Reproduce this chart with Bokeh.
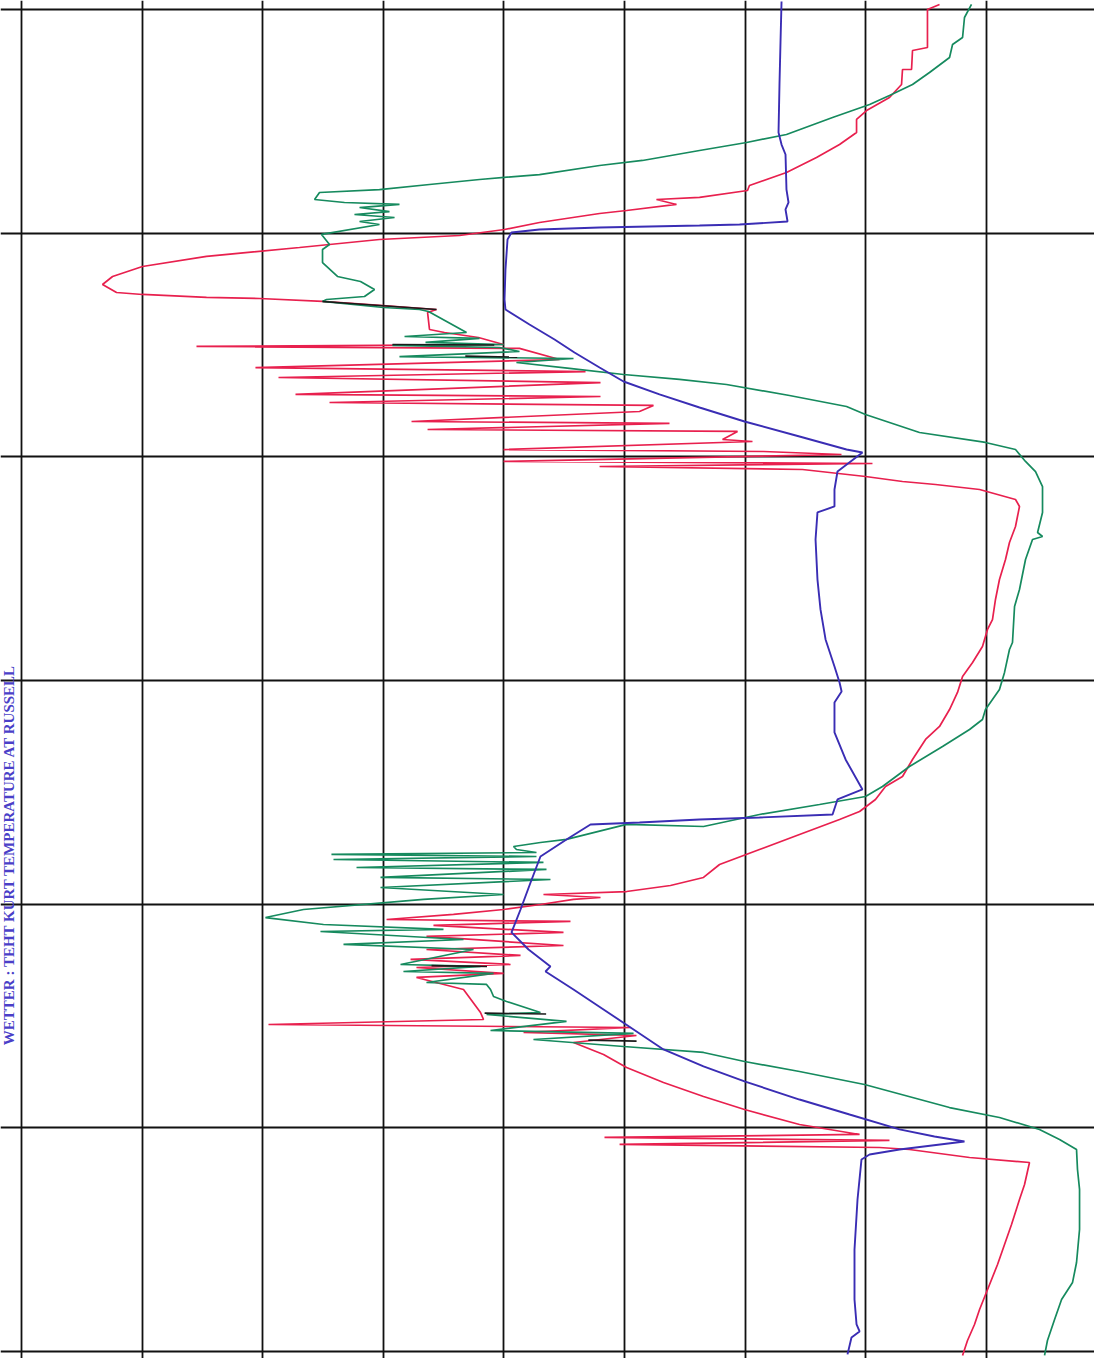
import math
from bokeh.plotting import figure
from bokeh.models import Range1d, FixedTicker
from bokeh.core.properties import value
from bokeh.embed import file_html
from bokeh.resources import INLINE

# ---- data (value axis: 10 units per column; time axis: hours, 24 h per row, read downward) ----
title_text = "WETTER : TEHT KURT TEMPERATURE AT RUSSELL"

value_ticks = [0, 10, 20, 30, 40, 50, 60, 70, 80]
hour_ticks = [0, 24, 48, 72, 96, 120, 144]

blue_v = [63.02, 62.94, 62.85, 62.77, 63.02, 63.35, 63.43, 63.60, 63.35, 63.52, 59.54, 56.22, 47.93, 42.95,
          40.63, 40.30, 40.13, 40.05, 40.13, 42.12, 44.20, 45.85, 47.93, 49.92, 52.90, 56.22, 59.95, 64.51,
          68.41, 69.73, 67.66, 67.41, 67.41, 66.00, 65.84, 66.00, 66.25, 66.67, 67.41, 67.83, 68.00, 67.41,
          67.41, 68.33, 69.73, 67.66, 67.25, 61.19, 56.22, 51.24, 47.18, 45.19, 43.03, 42.21, 41.38, 40.63,
          42.04, 43.86, 43.45, 45.77, 48.26, 50.75, 53.23, 56.55, 59.95, 64.51, 68.66, 72.80, 75.70, 78.19,
          72.80, 70.32, 69.65, 69.32, 69.07, 69.07, 69.24, 69.49, 68.82, 68.49]
blue_h = [-0.86, 3.22, 8.05, 13.20, 14.49, 15.56, 19.32, 20.71, 21.46, 22.75, 23.07, 23.18, 23.39, 23.61,
          23.93, 24.68, 27.90, 31.12, 32.19, 33.80, 35.41, 36.81, 38.42, 39.92, 41.31, 42.71, 44.21, 45.82,
          47.22, 47.54, 49.58, 51.51, 53.33, 53.97, 56.87, 61.17, 64.38, 67.60, 70.50, 72.22, 73.18, 74.36,
          77.58, 80.48, 83.70, 84.77, 86.38, 86.70, 86.92, 87.24, 87.45, 89.06, 90.89, 93.68, 96.58, 99.04,
          100.87, 102.69, 103.23, 105.16, 107.31, 109.45, 111.60, 113.42, 115.03, 116.97, 118.58, 120.18, 120.94, 121.47,
          122.33, 122.87, 123.40, 127.70, 133.06, 138.43, 141.11, 141.86, 142.50, 144.32]

red_v = [76.12, 75.12, 75.12, 73.88, 73.80, 73.05, 72.97, 71.97, 70.07, 69.24, 69.24, 67.83, 65.92, 63.43,
         60.36, 60.20, 56.22, 52.65, 54.31, 50.17, 47.93, 42.95, 40.05, 36.32, 29.68, 23.05, 15.34, 10.03,
         7.55, 6.72, 7.88, 10.03, 15.34, 19.73, 24.96, 29.68, 34.41, 33.67, 33.83, 35.07, 37.89, 39.97,
         14.51, 41.29, 44.61, 19.40, 46.77, 21.31, 48.01, 22.72, 48.01, 25.54, 52.40, 51.24, 32.34, 53.73,
         33.67, 59.37, 58.13, 60.61, 39.97, 61.53, 67.99, 39.97, 70.56, 47.93, 64.76, 69.98, 73.05, 75.79,
         79.44, 82.42, 82.75, 82.42, 81.92, 81.59, 81.09, 80.76, 80.51, 80.10, 79.68, 78.86, 78.03, 77.61,
         76.95, 76.12, 74.96, 73.88, 73.05, 71.64, 70.81, 69.49, 67.83, 64.51, 61.19, 57.88, 56.55, 53.81,
         50.17, 43.28, 48.01, 45.77, 43.03, 39.97, 35.82, 30.27, 45.52, 34.16, 44.94, 33.58, 44.94, 33.58,
         41.38, 32.26, 40.55, 32.75, 39.97, 32.75, 36.65, 38.06, 38.31, 20.48, 50.50, 41.63, 50.99, 45.77,
         48.26, 50.17, 53.23, 56.55, 59.95, 64.51, 69.49, 48.34, 71.97, 49.59, 71.14, 73.63, 78.61, 83.58,
         83.17, 82.75, 82.09, 81.51, 80.93, 80.27, 79.44, 79.02, 78.44, 78.03]
red_h = [-0.54, 0.00, 4.08, 4.40, 6.44, 6.44, 8.05, 9.44, 10.84, 11.80, 13.20, 14.49, 15.88, 17.49,
         18.89, 19.42, 20.17, 20.39, 20.92, 21.57, 21.89, 22.86, 23.61, 24.25, 24.68, 25.54, 26.50, 27.58,
         28.65, 29.51, 30.37, 30.58, 30.90, 31.01, 31.33, 31.76, 32.19, 32.51, 34.34, 34.66, 35.20, 35.95,
         36.16, 36.37, 37.56, 38.42, 38.85, 39.49, 40.03, 41.31, 41.53, 42.17, 42.49, 43.14, 44.21, 44.42,
         45.07, 45.28, 46.14, 46.36, 47.22, 47.43, 47.75, 48.50, 48.72, 49.04, 49.36, 50.11, 50.65, 50.97,
         51.51, 52.58, 53.33, 55.48, 57.20, 59.02, 61.17, 63.31, 65.46, 66.53, 68.35, 70.07, 71.57, 73.29,
         75.12, 76.94, 78.33, 80.48, 82.30, 83.38, 84.77, 86.06, 86.92, 88.53, 90.14, 91.75, 93.14, 94.00,
         94.65, 94.97, 95.29, 95.50, 96.04, 96.58, 97.11, 97.65, 97.86, 98.29, 99.04, 99.47, 100.44, 100.87,
         101.51, 101.94, 102.48, 102.80, 103.44, 103.87, 105.16, 107.63, 108.38, 108.92, 109.24, 109.77, 110.10, 110.85,
         112.14, 113.53, 115.14, 116.64, 118.04, 119.65, 120.72, 121.04, 121.36, 121.79, 122.12, 122.33, 123.19, 123.73,
         126.09, 127.70, 130.38, 132.52, 134.67, 136.82, 139.50, 141.11, 142.83, 144.43]

green_v = [78.77, 78.19, 78.03, 77.20, 76.95, 75.29, 73.88, 71.97, 70.32, 67.25, 63.43, 60.12, 56.22, 51.49,
           47.93, 42.95, 37.98, 33.83, 29.68, 24.71, 24.30, 26.78, 31.34, 28.03, 30.51, 27.61, 30.93, 28.03,
           29.68, 24.88, 25.54, 24.96, 24.96, 26.20, 28.11, 29.27, 28.44, 25.29, 24.96, 30.02, 33.00, 33.75,
           36.90, 31.76, 37.98, 33.50, 39.97, 30.76, 39.64, 41.29, 31.34, 45.77, 41.04, 45.44, 49.92, 54.56,
           58.46, 63.68, 68.41, 69.98, 74.46, 79.93, 82.42, 83.25, 84.08, 84.66, 84.66, 84.25, 84.66, 83.83,
           83.25, 82.75, 82.34, 82.17, 81.92, 81.51, 81.09, 80.51, 79.93, 79.68, 78.61, 76.37, 73.63, 71.39,
           69.98, 66.17, 61.19, 56.55, 50.17, 45.19, 43.03, 40.80, 41.04, 42.70, 25.70, 42.70, 25.87, 43.28,
           27.78, 43.53, 29.77, 43.86, 29.77, 39.97, 33.33, 23.38, 20.23, 25.04, 34.99, 24.79, 36.65, 26.70,
           37.48, 31.43, 38.06, 31.67, 39.14, 33.58, 38.56, 38.89, 39.14, 40.22, 43.03, 38.56, 45.19, 38.89,
           50.75, 42.45, 49.92, 56.55, 59.95, 64.51, 69.90, 76.95, 81.09, 84.41, 86.07, 87.48, 87.56, 87.73,
           87.73, 87.48, 87.15, 86.24, 85.66, 85.07, 84.83]
green_h = [-0.54, 0.86, 3.00, 3.76, 5.15, 6.76, 8.05, 9.23, 10.19, 11.59, 13.41, 14.27, 15.13, 16.20,
           16.74, 17.71, 18.24, 18.78, 19.32, 19.64, 20.39, 20.71, 20.92, 21.25, 21.68, 22.00, 22.32, 22.75,
           23.07, 24.14, 25.22, 25.75, 27.15, 28.65, 29.19, 30.05, 30.80, 31.12, 31.33, 31.98, 32.19, 32.41,
           34.66, 35.09, 35.30, 35.73, 35.95, 36.05, 36.27, 36.70, 37.24, 37.45, 37.88, 38.52, 39.17, 39.70,
           40.24, 41.42, 42.60, 43.46, 45.39, 46.46, 47.22, 48.50, 49.58, 51.19, 53.97, 56.12, 56.55, 56.87,
           59.02, 62.24, 64.06, 67.93, 68.68, 71.14, 72.97, 74.04, 75.12, 76.19, 77.26, 79.09, 81.23, 83.38,
           84.45, 85.31, 86.38, 87.67, 87.45, 89.06, 89.39, 89.82, 90.14, 90.46, 90.67, 90.89, 91.21, 91.53,
           92.07, 92.28, 93.14, 93.36, 94.22, 94.97, 95.50, 96.58, 97.44, 98.19, 98.72, 98.94, 99.80, 100.33,
           100.87, 102.48, 102.69, 103.23, 103.44, 104.41, 104.62, 105.16, 105.91, 106.45, 107.63, 107.84, 108.59, 109.56,
           109.88, 110.53, 111.28, 111.92, 112.89, 113.96, 115.36, 117.83, 118.90, 120.18, 121.26, 122.33, 124.48, 126.62,
           130.92, 134.46, 136.60, 138.43, 140.57, 142.83, 144.43]

# overlapping trace portions printed dark
overlap_v = [[24.96, 29.68, 34.41], [30.76, 39.2], [36.8, 41.1], [34.0, 38.6], [38.4, 43.5], [47.0, 51.0]]
overlap_h = [[31.33, 31.76, 32.19], [35.95, 36.0], [37.2, 37.3], [102.6, 102.7], [107.7, 107.8], [110.6, 110.7]]

# ---- figure ----
p = figure(width=1094, height=1358, output_backend="svg", toolbar_location=None,
           x_range=Range1d(-1.741, 88.97), y_range=Range1d(144.76, -0.966),
           min_border=0, min_border_left=0, min_border_right=0, min_border_top=0, min_border_bottom=0)
p.axis.visible = False
p.outline_line_color = None
p.background_fill_color = "white"
p.border_fill_color = "white"

p.xgrid.ticker = FixedTicker(ticks=value_ticks)
p.ygrid.ticker = FixedTicker(ticks=hour_ticks)
for g in (p.xgrid, p.ygrid):
    g.grid_line_color = "#111111"
    g.grid_line_width = 1.8
    g.grid_line_alpha = 1.0

p.line(red_v, red_h, line_color="#e8204e", line_width=1.7)
p.line(green_v, green_h, line_color="#168a5e", line_width=1.7)
p.line(blue_v, blue_h, line_color="#3a2db4", line_width=1.9)
p.multi_line(overlap_v, overlap_h, line_color="#1a1a1a", line_width=1.6)

p.text(x=[-1.0], y=[90.67], text=[title_text], angle=math.pi / 2,
       text_align="center", text_baseline="middle",
       text_font=value("Liberation Serif"), text_font_style="bold",
       text_font_size="15px", text_color="#4a3fc8")

open("out.html", "w").write(file_html(p, INLINE))
